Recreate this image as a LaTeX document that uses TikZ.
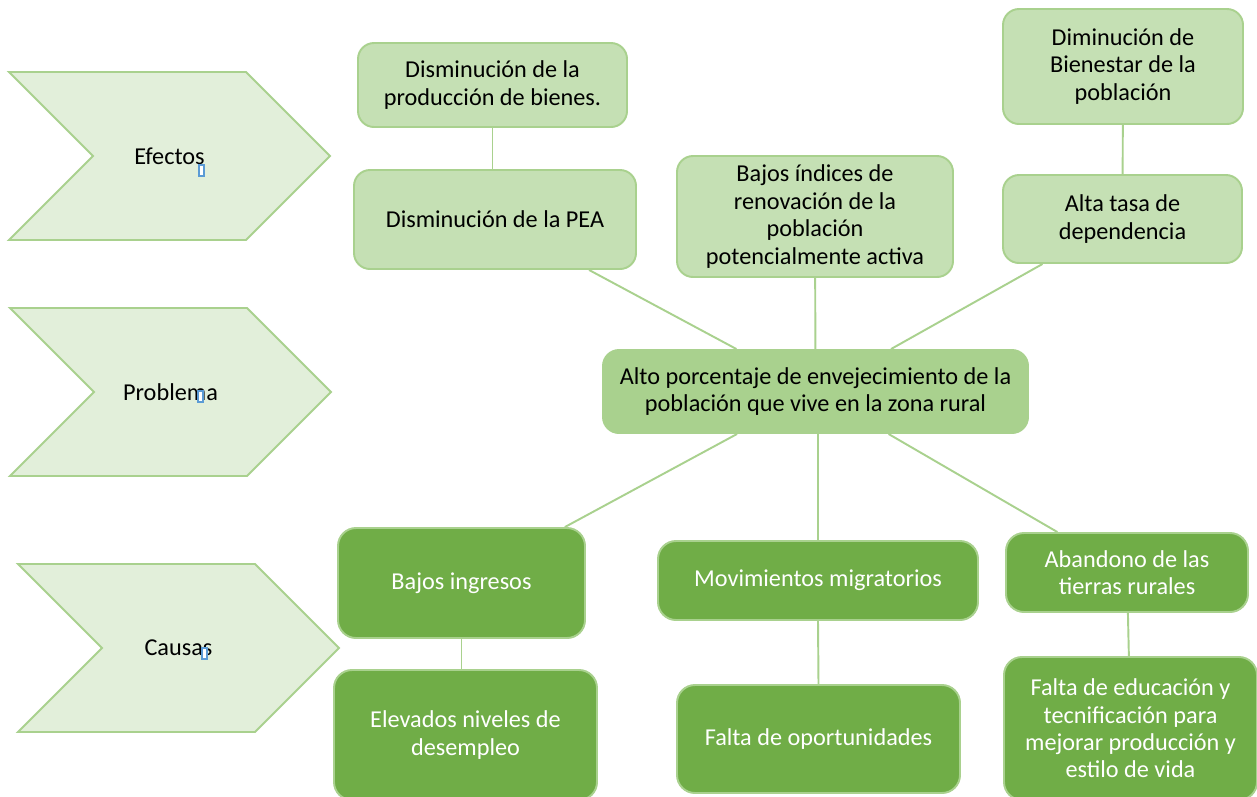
\documentclass[tikz,border=0pt]{standalone}
\usepackage{fontspec}
\setmainfont{Carlito}
\usepackage{tikz}
\usetikzlibrary{calc}
\definecolor{chevfill}{HTML}{E2EFDA}
\definecolor{leaf}{HTML}{A9D18E}
\definecolor{effill}{HTML}{C5E0B4}
\definecolor{grass}{HTML}{70AD47}
\definecolor{cursor}{HTML}{5B9BD5}

\begin{document}
\begin{tikzpicture}[
  font=\fontsize{13.8}{15.6}\selectfont,
  chev/.style={draw=leaf,fill=chevfill,line width=1.1pt,line join=miter},
  effect/.style={draw=leaf,fill=effill,line width=1.1pt,rounded corners=0.32cm,
                 align=center,inner sep=2pt},
  core/.style={draw=leaf,fill=leaf,line width=1.1pt,rounded corners=0.32cm,
               align=center,inner sep=2pt},
  cause/.style={draw=leaf,fill=grass,text=white,line width=1.1pt,rounded corners=0.36cm,
                align=center,inner sep=2pt},
  link/.style={draw=leaf,line width=1.1pt}]
  \useasboundingbox (0,0) rectangle (25.14,-15.92);
  % side labels
  \foreach \lx/\ty/\mx/\my/\nm/\txt in {0.18/-1.44/3.80/-1.86/lefe/Efectos,
      0.20/-6.16/3.76/-1.66/lpro/Problema,0.36/-11.28/3.68/-1.68/lcau/Causas}{
    \draw[chev] (\lx,\ty) -- ++(4.74,0) -- ++(1.68,-1.68) -- ++(-1.68,-1.68)
                -- ++(-4.74,0) -- ++(1.68,1.68) -- cycle;
    \node (\nm) at (\lx+3.21,\ty-1.68) {\txt};
    \draw[draw=cursor,fill=white,line width=0.6pt] (\lx+\mx,\ty+\my) rectangle ++(0.1,-0.22);
  }
  % effects
  \node[effect,minimum width=5.38cm,minimum height=1.68cm] (prod) at (9.85,-1.70)
       {Disminución de la\\producción de bienes.};
  \node[effect,minimum width=5.64cm,minimum height=1.98cm] (pea) at (9.90,-4.39)
       {Disminución de la PEA};
  \node[effect,minimum width=5.52cm,minimum height=2.42cm] (ind) at (16.30,-4.33)
       {Bajos índices de\\renovación de la\\población\\potencialmente activa};
  \node[effect,minimum width=4.80cm,minimum height=2.30cm] (bien) at (22.46,-1.33)
       {Diminución de\\Bienestar de la\\población};
  \node[effect,minimum width=4.78cm,minimum height=1.76cm] (alta) at (22.45,-4.38)
       {Alta tasa de\\dependencia};
  % problem
  \node[core,minimum width=8.50cm,minimum height=1.66cm] (prob) at (16.31,-7.83)
       {Alto porcentaje de envejecimiento de la\\población que vive en la zona rural};
  % causes
  \node[cause,minimum width=4.94cm,minimum height=2.20cm] (ingr) at (9.23,-11.66)
       {Bajos ingresos};
  \node[cause,minimum width=5.26cm,minimum height=2.60cm] (desem) at (9.31,-14.70)
       {Elevados niveles de\\desempleo};
  \node[cause,minimum width=6.40cm,minimum height=1.58cm] (migr) at (16.36,-11.61)
       {Movimientos migratorios};
  \node[cause,minimum width=5.66cm,minimum height=2.16cm] (oport) at (16.37,-14.78)
       {Falta de oportunidades};
  \node[cause,minimum width=4.84cm,minimum height=1.58cm] (aband) at (22.54,-11.45)
       {Abandono de las\\tierras rurales};
  \node[cause,minimum width=5.06cm,minimum height=2.86cm] (educ) at (22.61,-14.57)
       {Falta de educación y\\tecnificación para\\mejorar producción y\\estilo de vida};
  % connectors
  \draw[link] (prod.south) -- (prod.south |- pea.north);
  \draw[link] (bien) -- (alta);
  \foreach \e in {pea,ind,alta} \draw[link] (\e) -- (prob);
  \foreach \c in {ingr,aband} \draw[link] (prob) -- (\c);
  \draw[link] (migr.north |- prob.south) -- (migr.north);
  \draw[link] (ingr.south) -- (ingr.south |- desem.north);
  \draw[link] (migr.south) -- (oport.north);
  \draw[link] (aband) -- (educ);
\end{tikzpicture}
\end{document}
